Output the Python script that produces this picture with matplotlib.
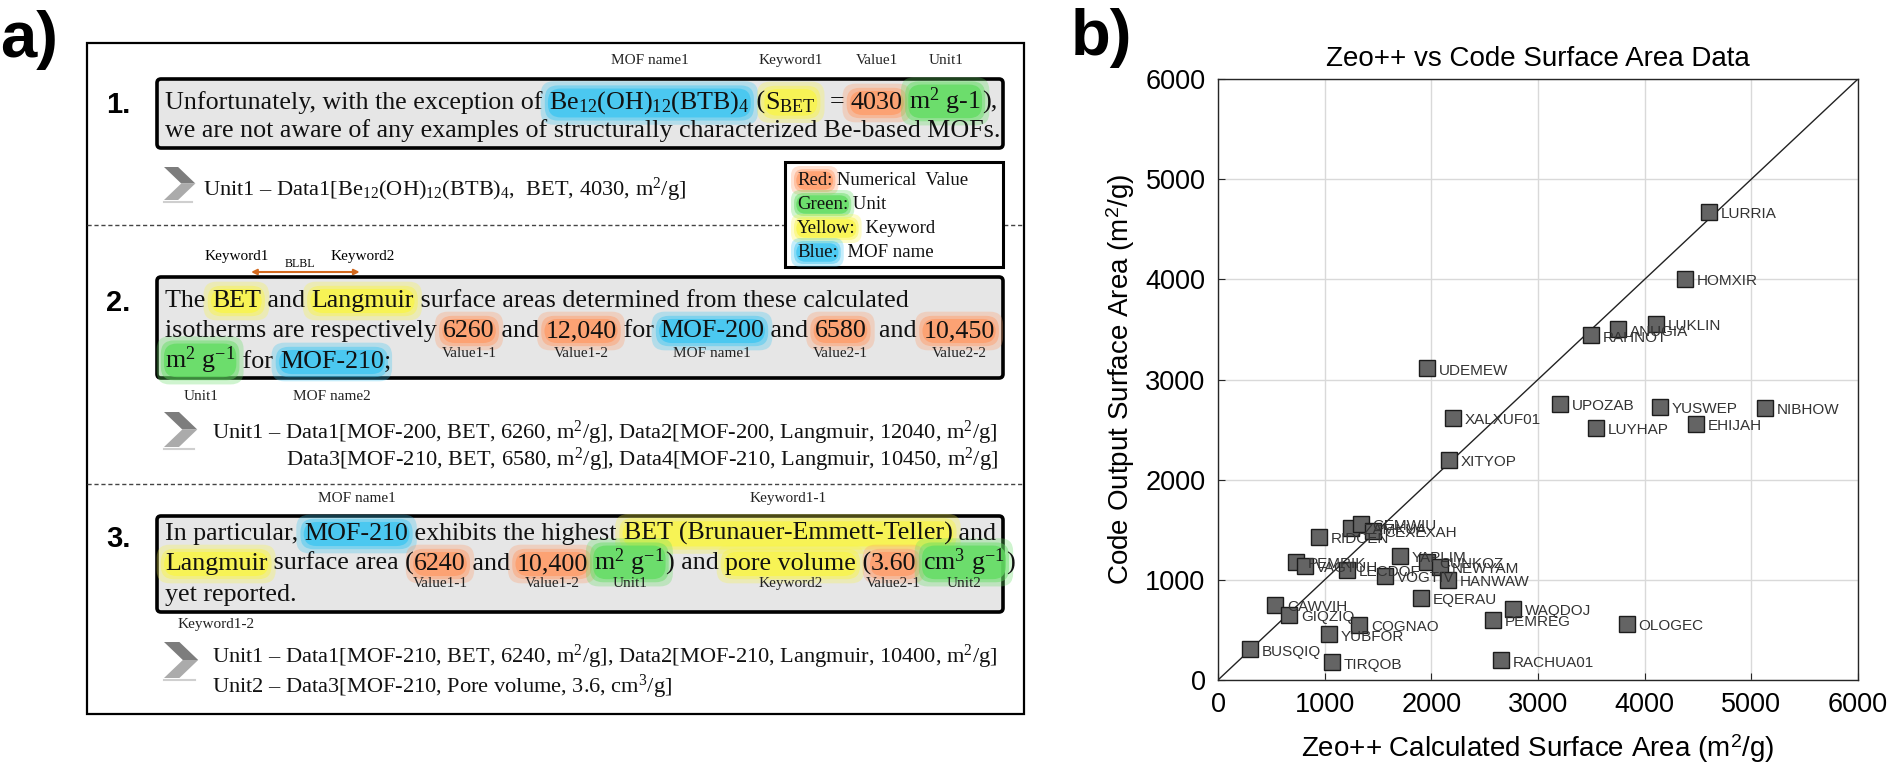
import matplotlib
matplotlib.use('Agg')
import matplotlib.pyplot as plt
from matplotlib.patches import FancyBboxPatch, Polygon, FancyArrowPatch

plt.rcParams['mathtext.fontset'] = 'custom'
plt.rcParams['mathtext.rm'] = 'Liberation Serif'
plt.rcParams['mathtext.it'] = 'Liberation Serif:italic'
plt.rcParams['mathtext.bf'] = 'Liberation Serif:bold'
plt.rcParams['mathtext.sf'] = 'Liberation Sans'

# ---- panel b data: Zeo++ vs code output surface area (m2/g) ----
names = ["LURRIA", "HOMXIR", "LUKLIN", "ANUGIA", "RAHNOT", "UDEMEW", "UPOZAB",
         "YUSWEP", "NIBHOW", "XALXUF01", "LUYHAP", "EHIJAH", "XITYOP",
         "ZAMKUA", "GEMWIU", "CEXEXAH", "RIDCEN", "PEMRIK", "VAGTUH", "LECDOF",
         "VOGTIV", "YAPLIM", "CUNKOZ", "NEWYAM", "HANWAW", "EQERAU", "CAWVIH",
         "GIQZIQ", "COGNAO", "YUBFOR", "BUSQIQ", "TIRQOB", "PEMREG", "WAQDOJ",
         "RACHUA01", "OLOGEC"]
zeo_area = [4600, 4380, 4110, 3750, 3500, 1960, 3205,
            4145, 5130, 2200, 3540, 4485, 2165,
            1250, 1340, 1450, 950, 733, 811, 1207,
            1565, 1706, 1960, 2080, 2160, 1900, 537,
            668, 1325, 1040, 300, 1065, 2580, 2765,
            2655, 3830]
code_area = [4670, 4000, 3550, 3500, 3440, 3110, 2755,
             2725, 2715, 2620, 2515, 2555, 2200,
             1520, 1555, 1490, 1425, 1183, 1135, 1095,
             1035, 1240, 1180, 1130, 1000, 820, 745,
             645, 550, 455, 305, 175, 600, 705,
             195, 560]
ticks = [0, 1000, 2000, 3000, 4000, 5000, 6000]

# ---- panel a text ----
BE = r"Be$_{12}$(OH)$_{12}$(BTB)$_4$"
box1_lines = [
    [("Unfortunately, with the exception of ", None), (BE, "blue"), (" (", None),
     (r"S$_{\mathrm{BET}}$", "yellow"), ("  = ", None), ("4030", "orange"), (" ", None),
     (r"m$^2$ g-1", "green"), ("),", None)],
    [("we are not aware of any examples of structurally characterized Be-based MOFs.", None)],
]
box1_tags_above = [("MOF name1", 0, 1), ("Keyword1", 0, 3), ("Value1", 0, 5), ("Unit1", 0, 7)]
box1_data = ["Unit1 \u2013 Data1[" + BE + ",  BET, 4030, m$^2$/g]"]

box2_lines = [
    [("The ", None), ("BET", "yellow"), (" and ", None), ("Langmuir", "yellow"),
     (" surface areas determined from these calculated", None)],
    [("isotherms are respectively ", None), ("6260", "orange"), (" and ", None),
     ("12,040", "orange"), (" for ", None), ("MOF-200", "blue"), (" and ", None),
     ("6580", "orange"), ("  and ", None), ("10,450", "orange")],
    [(r"m$^2$ g$^{-1}$", "green"), (" for ", None), ("MOF-210", "blue"), (";", None)],
]
box2_tags_mid = [("Value1-1", 1, 1), ("Value1-2", 1, 3), ("MOF name1", 1, 5),
                 ("Value2-1", 1, 7), ("Value2-2", 1, 9)]
box2_tags_below = [("Unit1", 2, 0), ("MOF name2", 2, 2)]
box2_data = ["Unit1 \u2013 Data1[MOF-200, BET, 6260, m$^2$/g], Data2[MOF-200, Langmuir, 12040, m$^2$/g]",
             "Data3[MOF-210, BET, 6580, m$^2$/g], Data4[MOF-210, Langmuir, 10450, m$^2$/g]"]

box3_lines = [
    [("In particular, ", None), ("MOF-210", "blue"), (" exhibits the highest ", None),
     ("BET (Brunauer-Emmett-Teller)", "yellow"), (" and", None)],
    [("Langmuir", "yellow"), (" surface area (", None), ("6240", "orange"), (" and ", None),
     ("10,400", "orange"), (" ", None), (r"m$^2$ g$^{-1}$", "green"), (") and ", None),
     ("pore volume", "yellow"), (" (", None), ("3.60", "orange"), (" ", None),
     (r"cm$^3$ g$^{-1}$", "green"), (")", None)],
    [("yet reported.", None)],
]
box3_tags_above = [("MOF name1", 0, 1), ("Keyword1-1", 0, 3)]
box3_tags_mid = [("Value1-1", 1, 2), ("Value1-2", 1, 4), ("Unit1", 1, 6),
                 ("Keyword2", 1, 8), ("Value2-1", 1, 10), ("Unit2", 1, 12)]
box3_tags_below = [("Keyword1-2", 1, 0)]
box3_data = ["Unit1 \u2013 Data1[MOF-210, BET, 6240, m$^2$/g], Data2[MOF-210, Langmuir, 10400, m$^2$/g]",
             "Unit2 \u2013 Data3[MOF-210, Pore volume, 3.6, cm$^3$/g]"]

legend_rows = [("Red:", "orange", " Numerical  Value"), ("Green:", "green", " Unit"),
               ("Yellow:", "yellow", "  Keyword"), ("Blue:", "blue", "  MOF name")]

glow = {"blue": "#3fc6f2", "yellow": "#f9f54a", "orange": "#ff9d6a", "green": "#62dd62"}
SERIF = "Liberation Serif"

fig = plt.figure(figsize=(18.93, 7.75), dpi=100)
cv = fig.add_axes([0, 0, 1, 1])
cv.set_xlim(0, 1893)
cv.set_ylim(775, 0)
cv.axis('off')
renderer = fig.canvas.get_renderer()


def width(s, size):
    t = cv.text(0, 0, 'x' + s + 'x', fontsize=size, family=SERIF)
    w1 = t.get_window_extent(renderer).width
    t.set_text('xx')
    w2 = t.get_window_extent(renderer).width
    t.remove()
    return w1 - w2


def runs(x, y, parts, size):
    spans = []
    for s, hl in parts:
        w = width(s, size)
        if hl:
            # soft glow: a wide faint halo and a tighter stronger one
            for pad, a in ((0.32, 0.3), (0.16, 0.45), (0.04, 0.8)):
                cv.text(x, y, s, fontsize=size, family=SERIF, color=(0, 0, 0, 0), zorder=6,
                        bbox=dict(boxstyle='round,pad=%s,rounding_size=0.5' % pad, fc=glow[hl], ec='none', alpha=a))
        cv.text(x, y, s, fontsize=size, family=SERIF, color='#111111', zorder=7)
        spans.append((x, x + w))
        x += w
    return spans


def tags(items, spans, y, size=11):
    for label, li, ri in items:
        x0, x1 = spans[li][ri]
        cv.text((x0 + x1) / 2, y, label, fontsize=size, family=SERIF, ha='center',
                color='#222222', zorder=7)


def gray_box(y0, y1):
    cv.add_patch(FancyBboxPatch((157, y0), 846, y1 - y0, boxstyle='round,pad=0,rounding_size=4',
                                fc='#e6e6e6', ec='black', lw=2.6, zorder=2))


def chevron(x0, y0, h):
    w = h * 0.95
    cv.add_patch(Polygon([(x0, y0), (x0 + 0.45 * w, y0), (x0 + w, y0 + h / 2), (x0 + 0.55 * w, y0 + h / 2)],
                         closed=True, fc='#7d7d7d', ec='none'))
    cv.add_patch(Polygon([(x0 + 0.55 * w, y0 + h / 2), (x0 + w, y0 + h / 2), (x0 + 0.45 * w, y0 + h), (x0, y0 + h)],
                         closed=True, fc='#ababab', ec='none'))
    cv.plot([x0, x0 + 0.9 * w], [y0 + h + 2, y0 + h + 2], color='#cfcfcf', lw=1.5)


# font sizes fitted to the line widths of the reference
box_fs = 17 * 837 / width(box1_lines[1][0][0], 17)
data_fs = 15 * 788 / width(box2_data[0], 15)

# panel a frame and separators
cv.add_patch(FancyBboxPatch((87, 43), 937, 671, boxstyle='square,pad=0', fc='none', ec='black', lw=1.6))
for yd in (225, 484):
    cv.plot([87, 1024], [yd, yd], color='#444444', lw=1, ls=(0, (3, 2)))
cv.text(0, 57, "a)", fontsize=47, fontweight='bold', family='Liberation Sans')
cv.text(1071, 55, "b)", fontsize=47, fontweight='bold', family='Liberation Sans')
for num, yb in (("1.", 113), ("2.", 311), ("3.", 547)):
    cv.text(106, yb, num, fontsize=21, fontweight='bold', family='Liberation Sans')

# section 1
gray_box(79, 148)
sp1 = [runs(165, y, line, box_fs) for line, y in zip(box1_lines, (109, 137))]
tags(box1_tags_above, sp1, 64)
chevron(164, 167, 33)
cv.text(203, 196, box1_data[0], fontsize=data_fs, family=SERIF, color='#111111')
cv.add_patch(FancyBboxPatch((785, 162), 218, 105, boxstyle='square,pad=0', fc='white', ec='black', lw=2.2, zorder=4))
for (head, col, rest), yb in zip(legend_rows, (185, 209, 233, 257)):
    runs(797, yb, [(head, col), (rest, None)], 13.5)

# section 2
gray_box(277, 378)
sp2 = [runs(165, y, line, box_fs) for line, y in zip(box2_lines, (307, 337, 368))]
tags(box2_tags_mid, sp2, 357)
tags(box2_tags_below, sp2, 400)
b0, b1 = sp2[0][1]
l0, l1 = sp2[0][3]
cv.text((b0 + b1) / 2, 260, "Keyword1", fontsize=11, family=SERIF, ha='center')
cv.text((l0 + l1) / 2, 260, "Keyword2", fontsize=11, family=SERIF, ha='center')
cv.text(((b0 + b1) / 2 + (l0 + l1) / 2) / 2, 267, "BLBL", fontsize=8.5, family=SERIF, ha='center')
cv.add_patch(FancyArrowPatch(((b0 + b1) / 2 + 12, 272), ((l0 + l1) / 2, 272), arrowstyle='<|-|>',
                             mutation_scale=8, color='#d2691e', lw=1.5))
chevron(164, 412, 35)
cv.text(212, 439, box2_data[0], fontsize=data_fs, family=SERIF, color='#111111')
cv.text(212 + width("Unit1 \u2013 ", data_fs), 466, box2_data[1], fontsize=data_fs, family=SERIF, color='#111111')

# section 3
gray_box(516, 612)
sp3 = [runs(165, y, line, box_fs) for line, y in zip(box3_lines, (540, 570, 601))]
tags(box3_tags_above, sp3, 502)
tags(box3_tags_mid, sp3, 587)
tags(box3_tags_below, sp3, 628)
chevron(164, 642, 36)
cv.text(212, 663, box3_data[0], fontsize=data_fs, family=SERIF, color='#111111')
cv.text(212, 693, box3_data[1], fontsize=data_fs, family=SERIF, color='#111111')

# ---- panel b ----
ax = fig.add_axes([1218 / 1893, 1 - 680 / 775, 640 / 1893, 601 / 775])
ax.plot([0, 6000], [0, 6000], color='#222222', lw=1, zorder=2)
ax.plot(zeo_area, code_area, 's', ms=12, mfc='#646464', mec='#1c1c1c', mew=1, zorder=3)
for n, xv, yv in zip(names, zeo_area, code_area):
    ax.annotate(n, (xv, yv), xytext=(8.5, -1.5), textcoords='offset points', fontsize=11,
                family='Liberation Sans', color='#333333', va='center', zorder=4)
ax.set_xlim(0, 6000)
ax.set_ylim(0, 6000)
ax.set_xticks(ticks)
ax.set_yticks(ticks)
ax.grid(True, color='#d9d9d9', lw=1)
ax.set_axisbelow(True)
ax.tick_params(direction='in', length=5, labelsize=19.5, color='#262626', pad=9)
for s in ax.spines.values():
    s.set_color('#262626')
    s.set_linewidth(1)
for lab in ax.get_xticklabels() + ax.get_yticklabels():
    lab.set_family('Liberation Sans')
ax.set_title("Zeo++ vs Code Surface Area Data", fontsize=20, family='Liberation Sans', pad=9)
ax.set_xlabel("Zeo++ Calculated Surface Area (m$^\\mathsf{2}$/g)", fontsize=20, family='Liberation Sans', labelpad=10)
ax.set_ylabel("Code Output Surface Area (m$^\\mathsf{2}$/g)", fontsize=20, family='Liberation Sans', labelpad=6)

fig.savefig('out.png', dpi=100)
